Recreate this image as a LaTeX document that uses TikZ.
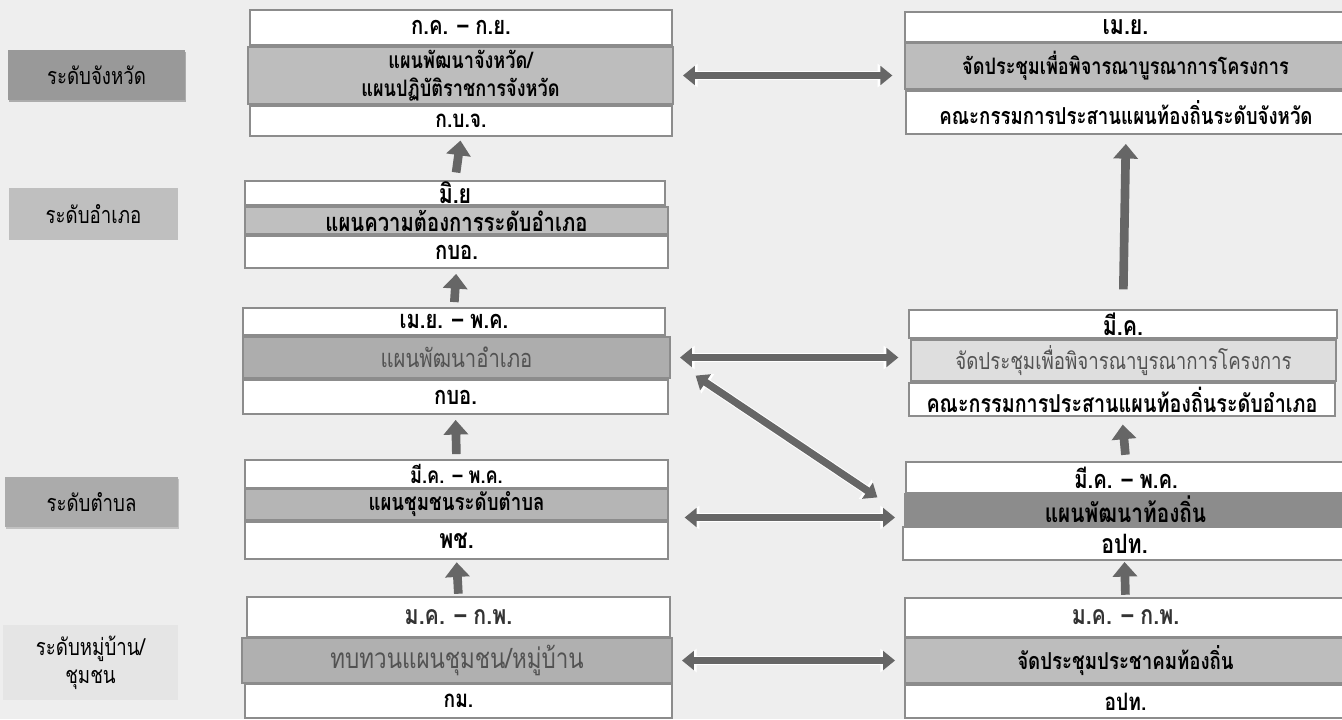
\documentclass[tikz,border=0pt]{standalone}
\usepackage{fontspec}
\newfontfamily\thai[Script=Thai, FakeStretch=0.8]{Loma}
\usetikzlibrary{arrows.meta,shadows}
\definecolor{bg}{HTML}{EEEEEE}
\definecolor{edge}{HTML}{8C8C8C}
\definecolor{ar}{HTML}{666666}
\newcommand\tf[2]{\thai\bfseries\fontsize{#1}{#2}\selectfont}
\newcommand\tn[2]{\thai\mdseries\fontsize{#1}{#2}\selectfont}
\newcommand\bx[7]{\node[#6, minimum width={(#4-#2)*0.75pt}, minimum height={(#5-#3)*0.75pt}] (#1) at ({(#2+#4)/2},{(#3+#5)/2}) {#7};}
\tikzset{
  bbox/.style={draw=edge, line width=0.9pt, inner sep=0pt, align=center, font=\tf{17}{20}, text=black},
  wbox/.style={bbox, fill=white},
  gbox/.style={bbox, fill=#1},
  lvl/.style={fill=#1, inner sep=0pt, align=center, font=\tn{17.5}{21}, text=black},
  uparr/.style={draw=ar, line width=6.5pt, -{Triangle[width=18pt,length=11pt]}},
  dbl/.style={draw=ar, line width=5.5pt, {Triangle[width=14pt,length=9pt]}-{Triangle[width=14pt,length=9pt]},
     preaction={draw=white, line width=7pt, {Triangle[width=17pt,length=11pt]}-{Triangle[width=17pt,length=11pt]}}},
}
\begin{document}
\begin{tikzpicture}[x=0.75pt,y=-0.75pt]
\useasboundingbox (0,0) rectangle (1342,719);
\clip (0,0) rectangle (1342,719);
\fill[bg] (0,0) rectangle (1342,719);
% level labels
\bx{lv1}{8}{50}{185}{100}{lvl={gray!80}, drop shadow={shadow xshift=0.8pt, shadow yshift=-1.2pt, opacity=0.6}}{ระดับจังหวัด}
\bx{lv2}{9}{188}{178}{240}{lvl={black!25}}{ระดับอำเภอ}
\bx{lv3}{5}{477}{178}{527}{lvl={black!33}, drop shadow={shadow xshift=0.8pt, shadow yshift=-1.2pt, opacity=0.4}}{ระดับตำบล}
\bx{lv4}{3}{625}{178}{700}{lvl={black!10}}{ระดับหมู่บ้าน/\\ชุมชน}
% left column
\bx{L1a}{250}{10}{672}{45}{wbox, font=\tf{19}{22}}{ก.ค. – ก.ย.}
\bx{L1b}{248}{47}{673}{104}{gbox={black!26}, font=\tf{17}{21}}{แผนพัฒนาจังหวัด/\\แผนปฏิบัติราชการจังหวัด}
\bx{L1c}{250}{106}{672}{136}{wbox, font=\tf{18}{22}}{ก.บ.จ.}
\bx{L2a}{245}{181}{665}{205}{wbox, font=\tf{20}{22}}{มิ.ย}
\bx{L2b}{245}{207}{668}{234}{gbox={black!25}, font=\tf{19}{22}}{แผนความต้องการระดับอำเภอ}
\bx{L2c}{245}{236}{668}{268}{wbox, font=\tf{19}{22}}{กบอ.}
\bx{L3a}{243}{308}{665}{335}{wbox, font=\tf{19}{22}}{เม.ย. – พ.ค.}
\bx{L3b}{243}{337}{670}{378}{gbox={black!32}, font=\tn{19}{22}, text=black!68}{แผนพัฒนาอำเภอ}
\bx{L3c}{243}{380}{668}{414}{wbox, font=\tf{19}{22}}{กบอ.}
\bx{L4a}{245}{460}{668}{488}{wbox, font=\tf{17}{20}}{มี.ค. – พ.ค.}
\bx{L4b}{245}{489}{668}{520}{gbox={black!29}, font=\tf{17.5}{20}}{แผนชุมชนระดับตำบล}
\bx{L4c}{245}{522}{668}{559}{wbox, font=\tf{20}{22}}{พช.}
\bx{L5a}{247}{597}{670}{637}{wbox, font=\tf{20}{22}, text=black!80}{ม.ค. – ก.พ.}
\bx{L5b}{242}{638}{672}{683}{gbox={black!31}, font=\tn{21}{24}, text=black!68}{ทบทวนแผนชุมชน/หมู่บ้าน}
\bx{L5c}{245}{684}{672}{718}{wbox, font=\tf{18}{22}}{กม.}
% right column
\bx{R1a}{905}{12}{1346}{42}{wbox, font=\tf{20}{22}}{เม.ย.}
\bx{R1b}{905}{43}{1346}{89}{gbox={black!26}, font=\tf{17}{20}}{จัดประชุมเพื่อพิจารณาบูรณาการโครงการ}
\bx{R1c}{906}{91}{1346}{134}{wbox, font=\tf{17.5}{20}}{คณะกรรมการประสานแผนท้องถิ่นระดับจังหวัด}
\bx{R2a}{909}{310}{1337}{338}{wbox, font=\tf{20}{22}}{มี.ค.}
\bx{R2b}{911}{340}{1336}{381}{gbox={black!13}, font=\tn{17.5}{20}, text=black!68}{จัดประชุมเพื่อพิจารณาบูรณาการโครงการ}
\bx{R2c}{909}{383}{1335}{416}{wbox, font=\tf{18.5}{20}}{คณะกรรมการประสานแผนท้องถิ่นระดับอำเภอ}
\bx{R3a}{906}{462}{1346}{493}{wbox, font=\tf{19}{22}}{มี.ค. – พ.ค.}
\bx{R3b}{905}{494}{1346}{525}{gbox={black!45}, font=\tf{19.5}{22}}{แผนพัฒนาท้องถิ่น}
\bx{R3c}{903}{527}{1346}{560}{wbox, font=\tf{20}{22}}{อปท.}
\bx{R4a}{905}{598}{1346}{637}{wbox, font=\tf{20}{22}, text=black!80}{ม.ค. – ก.พ.}
\bx{R4b}{905}{638}{1346}{683}{gbox={black!26}, font=\tf{17.5}{20}}{จัดประชุมประชาคมท้องถิ่น}
\bx{R4c}{905}{685}{1346}{718}{wbox, font=\tf{18}{22}}{อปท.}
% up arrows
\draw[uparr, shorten <=6pt, shorten >=3pt] (L2a.north) -- (L1c.south);
\draw[uparr, shorten <=4pt, shorten >=4pt] (L3a.north) -- (L2c.south);
\draw[uparr, shorten <=4pt, shorten >=4pt] (L4a.north) -- (L3c.south);
\draw[uparr, shorten <=2pt, shorten >=2pt] (L5a.north) -- (L4c.south);
\draw[uparr, shorten <=15pt, shorten >=7pt] (R2a.north) -- (R1c.south);
\draw[uparr, shorten <=5pt, shorten >=6pt] (R3a.north) -- (R2c.south);
\draw[uparr, shorten <=2pt, shorten >=1pt] (R4a.north) -- (R3c.south);
% horizontal and diagonal double arrows
\draw[dbl, shorten <=7pt, shorten >=9pt] (L1b.east) -- (L1b.east -| R1b.west);
\draw[dbl, shorten <=7pt, shorten >=9pt] (L3b.east) -- (L3b.east -| R2b.west);
\path (L4b.east) ++(0,13) coordinate (h3);
\draw[dbl, shorten <=12pt, shorten >=7pt] (h3) -- (h3 -| R3b.west);
\draw[dbl, shorten <=7pt, shorten >=7pt] (L5b.east) -- (L5b.east -| R4b.west);
\draw[dbl] ([shift={(25,-3)}]L3b.south east) -- ([shift={(-27,4)}]R3b.north west);
\end{tikzpicture}
\end{document}
